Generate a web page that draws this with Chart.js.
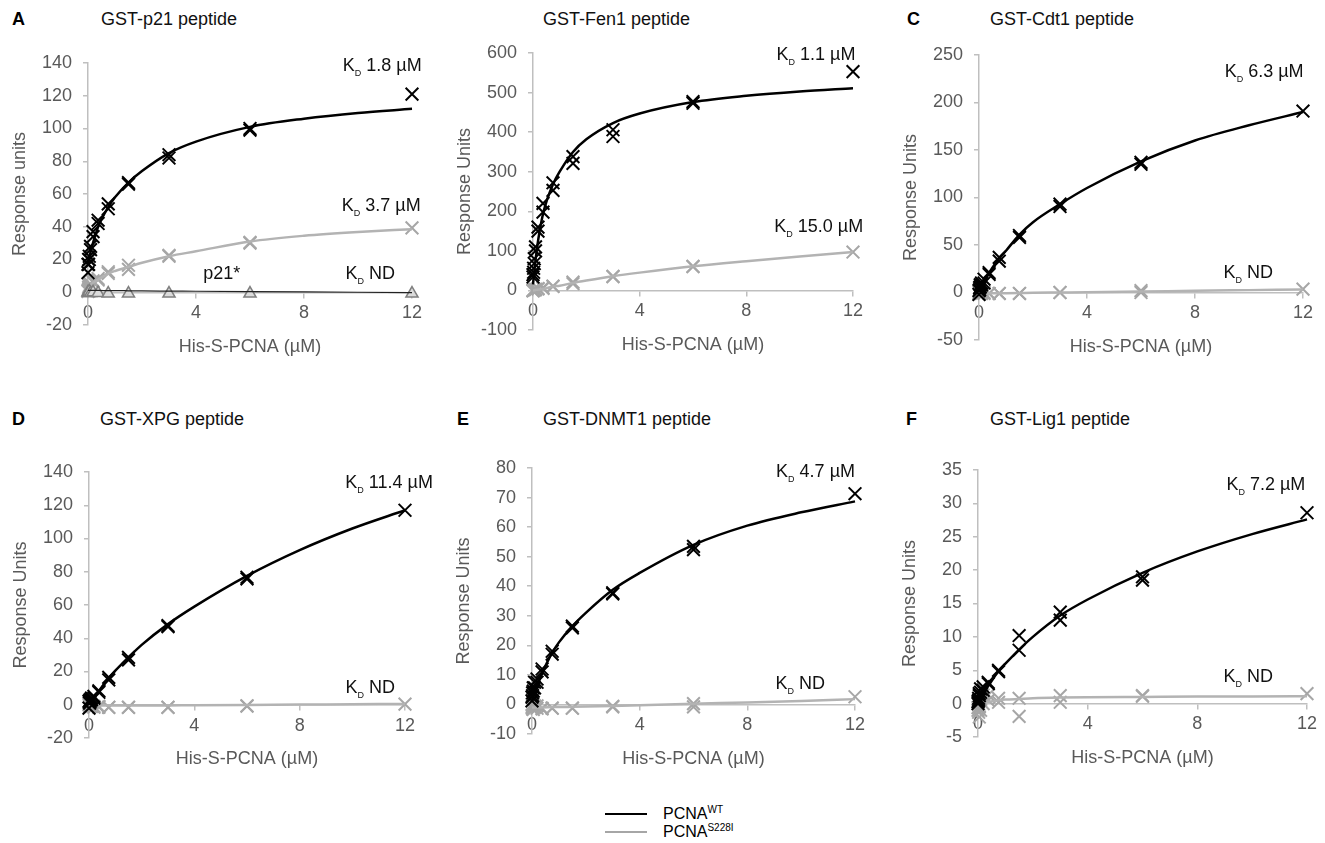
<!DOCTYPE html>
<html>
<head>
<meta charset="utf-8">
<title>PCNA binding curves</title>
<script src="https://cdn.jsdelivr.net/npm/chart.js@4.4.1/dist/chart.umd.min.js"></script>
<style>
  body { margin: 0; background: #fff; width: 1325px; height: 843px; overflow: hidden; position: relative;
         font-family: Arial, "Liberation Sans", Helvetica, sans-serif; }
  canvas { position: absolute; }
  .txt { position: absolute; font-size: 18px; line-height: 18px; color: #111; white-space: nowrap; }
  .letter { font-weight: bold; color: #000; }
  .leg { position: absolute; font-size: 16px; line-height: 16px; color: #000; white-space: nowrap; }
</style>
</head>
<body>
<script>
// SPR binding of His-S-PCNA to GST-peptides, PCNA WT vs S228I
// concentrations (µM) of the 2-fold dilution series, two replicates each
const conc = [0, 0.023, 0.047, 0.094, 0.1875, 0.375, 0.75, 1.5, 3, 6, 12];
const fitConc = [0, 0.1, 0.2, 0.4, 0.75, 1, 1.5, 2, 3, 4, 6, 8, 10, 12];

// A - p21
const p21Wt1 = [12, 17, 20, 26, 34, 42, 51, 67, 82, 99, 121];
const p21Wt2 = [17, 20, 22, 28, 37, 44, 54, 66, 84, 100, null];
const p21Mut1 = [1, 3, 4, 5, 7, 8.4, 12.5, 16.5, 22, 30, 39.3];
const p21Mut2 = [0.5, 2, 3, 4.5, 6, 7.5, 11.5, 14, 22.5, 30.5, null];
const p21Star = [0, -0.5, 0.5, -0.5, 0, -0.5, -0.8, -0.8, -0.8, -0.8, -0.8];
const p21WtFit = [17, 25, 31, 41, 52, 58, 67, 74, 85, 92, 101, 106, 109.5, 112];
const p21MutFit = [3, 4.5, 6, 8, 11.4, 13, 15.5, 18, 22, 25, 31, 34.5, 36.8, 38.5];
const p21StarFit = [1.2, 1.2, 1.1, 1.1, 1.0, 1.0, 0.9, 0.8, 0.7, 0.6, 0.4, 0.2, 0, -0.2];

// B - Fen1
const fenWt1 = [34, 56, 80, 110, 160, 220, 272, 338, 406, 477, 553];
const fenWt2 = [40, 46, 68, 100, 150, 198, 253, 321, 389, 473, null];
const fenMut1 = [0, 1, 2, 3, 5, 7, 11, 21, 35.5, 61, 97];
const fenMut2 = [-1, 0, 1, 2, 4, 5, 10, 17, 35, 60, null];
const fenWtFit = [15, 80, 130, 200, 268, 300, 350, 382, 423, 447, 476, 492, 503, 511];
const fenMutFit = [0, 1, 2, 4, 10, 12, 19, 25, 36, 45, 61, 74, 86, 97];

// C - Cdt1
const cdtWt1 = [2, 5, 8, 10, 14, 21, 37, 60, 90.5, 135, 191];
const cdtWt2 = [-2, 3, 6, 8, 10, 19, 33, 58, 93, 137, null];
const cdtMut1 = [0, 1, -1, 0, -1, -1, -1, -1, 0, 2, 3.5];
const cdtMut2 = [-2, 0, 0, -1, 0, -1, -1, -1, 0, 0, null];
const cdtWtFit = [1, 7, 13, 22, 36, 44, 61, 74, 93, 110, 138, 160, 176, 190];
const cdtMutFit = [-1, -1, -1, -0.9, -0.8, -0.7, -0.5, -0.3, 0, 0.3, 1, 1.8, 2.5, 3.2];

// D - XPG
const xpgWt1 = [2, 2.4, 3, 4, 5, 8.4, 16.5, 28.5, 47.6, 76.7, 117];
const xpgWt2 = [-2, 1, 2, 3, 4, 7.5, 15, 27, 47, 75.7, null];
const xpgMut1 = [0, -1, 0, -1, -1, -1.5, -1.6, -1.6, -1.6, -0.6, 0.4];
const xpgMut2 = [1, 0, -1, -0.5, -1.5, -1, -1.5, -1.5, -1.5, -0.8, null];
const xpgWtFit = [0, 2.3, 4.6, 8.8, 16, 20.5, 28.5, 36, 48.5, 59, 77.5, 93, 106, 117];
const xpgMutFit = [-0.5, -0.5, -0.5, -0.5, -0.5, -0.5, -0.5, -0.5, -0.4, -0.3, -0.1, 0.1, 0.3, 0.5];

// E - DNMT1
const dnmtWt1 = [2.5, 3.9, 5.6, 7.5, 8.6, 12, 18, 25.9, 37.8, 52.4, 71.3];
const dnmtWt2 = [1.2, 3, 4.5, 5.6, 7.5, 11, 17, 26.5, 37.4, 53.5, null];
const dnmtMut1 = [-1, -0.5, -1.7, -1, -1.3, -1.3, -1.3, -1.3, -0.8, 0.3, 2.6];
const dnmtMut2 = [0, -1.5, -1, -0.5, -0.5, -1.5, -1.2, -1.2, -0.6, -0.8, null];
const dnmtWtFit = [1, 4, 6.5, 11, 17.5, 21, 26.5, 31, 38.8, 44.5, 54, 60.5, 65, 68.7];
const dnmtMutFit = [-1, -1, -1, -1, -0.9, -0.9, -0.8, -0.7, -0.5, -0.3, 0.2, 0.7, 1.2, 1.8];

// F - Lig1
const ligWt1 = [0.3, 0.5, 1.2, 1.7, 2.5, 3.2, 5, 10.2, 13.7, 19, 28.6];
const ligWt2 = [0, 0.8, 1.5, 2.2, 2, 3, 4.8, 8, 12.5, 18.5, null];
const ligMut1 = [-0.6, -1.3, -2, 0.5, 1.3, 1.3, 0.8, 0.8, 1.2, 1.2, 1.5];
const ligMut2 = [-1, 0, -0.5, -1, 0, 0.5, 0.2, -1.9, 0.2, 1.1, null];
const ligWtFit = [0.3, 0.9, 1.5, 2.8, 4.9, 6, 8.1, 10, 13.2, 15.6, 19.6, 22.8, 25.4, 27.6];
const ligMutFit = [-0.3, -0.1, 0.1, 0.3, 0.5, 0.6, 0.7, 0.8, 0.9, 0.95, 1.0, 1.05, 1.08, 1.1];

const FONT = 'Arial, "Liberation Sans", Helvetica, sans-serif';
const BLACK = '#000000';
const GREY = '#a6a6a6';
const GREY_LINE = '#b3b3b3';
const AXIS = '#bfbfbf';
const TICK_TEXT = '#595959';

Chart.defaults.font.family = FONT;

// draws "K_D ..." annotations anchored in data coordinates (right aligned)
const kdLabelPlugin = {
  id: 'kdLabels',
  afterDraw(chart, args, opts) {
    const ctx = chart.ctx;
    const xs = chart.scales.x, ys = chart.scales.y;
    const big = '18px ' + FONT, small = '9px ' + FONT;
    ctx.save();
    ctx.fillStyle = '#111';
    ctx.textBaseline = 'alphabetic';
    (opts.items || []).forEach(function(it) {
      const px = xs.getPixelForValue(it.x);
      const py = ys.getPixelForValue(it.y) + 6.5;
      if (it.plain) {
        ctx.font = big;
        ctx.textAlign = 'center';
        ctx.fillText(it.plain, px, py);
        return;
      }
      ctx.textAlign = 'left';
      ctx.font = big;
      const wK = ctx.measureText('K').width;
      const rest = ' ' + it.text;
      const wRest = ctx.measureText(rest).width;
      ctx.font = small;
      const wD = ctx.measureText('D').width;
      const x0 = px - (wK + wD + wRest);
      ctx.font = big;
      ctx.fillText('K', x0, py);
      ctx.font = small;
      ctx.fillText('D', x0 + wK, py + 5);
      ctx.font = big;
      ctx.fillText(rest, x0 + wK + wD, py);
    });
    ctx.restore();
  }
};

function pts(xs, ys) {
  const out = [];
  xs.forEach(function(x, i) { if (ys[i] !== null) out.push({ x: x, y: ys[i] }); });
  return out;
}

function curve(vals, color, width) {
  return { data: pts(fitConc, vals), showLine: true, borderColor: color, borderWidth: width,
           pointRadius: 0, cubicInterpolationMode: 'monotone', fill: false, clip: false };
}

function crosses(vals, color) {
  return { data: pts(conc, vals), showLine: false, pointStyle: 'crossRot', pointRadius: 9,
           borderColor: color, pointBorderColor: color, borderWidth: 2, pointBorderWidth: 2,
           backgroundColor: 'transparent', clip: false };
}

// panel layout (pixel positions of axis corners on the page)
const panels = [
  { letter: 'A', title: 'GST-p21 peptide', yTitle: 'Response units', yMin: -20, yMax: 140, yStep: 20,
    axisX: 88, x12: 412, yTop: 63, yBot: 325, rowTop: 0, letterX: 12, titleX: 101,
    wt: [p21Wt1, p21Wt2], mut: [p21Mut1, p21Mut2], wtFit: p21WtFit, mutFit: p21MutFit,
    labels: [{ x: 12.36, y: 138.8, text: '1.8 µM' }, { x: 12.32, y: 53.8, text: '3.7 µM' },
             { x: 11.37, y: 11.8, text: 'ND' }, { x: 4.95, y: 11.8, plain: 'p21*' }] },
  { letter: '', title: 'GST-Fen1 peptide', yTitle: 'Response Units', yMin: -100, yMax: 600, yStep: 100,
    axisX: 533, x12: 853, yTop: 53, yBot: 330, rowTop: 0, letterX: 457, titleX: 543,
    wt: [fenWt1, fenWt2], mut: [fenMut1, fenMut2], wtFit: fenWtFit, mutFit: fenMutFit,
    labels: [{ x: 12.09, y: 600, text: '1.1 µM' }, { x: 12.38, y: 165, text: '15.0 µM' }] },
  { letter: 'C', title: 'GST-Cdt1 peptide', yTitle: 'Response Units', yMin: -50, yMax: 250, yStep: 50,
    axisX: 979, x12: 1303, yTop: 55, yBot: 340, rowTop: 0, letterX: 907, titleX: 990,
    wt: [cdtWt1, cdtWt2], mut: [cdtMut1, cdtMut2], wtFit: cdtWtFit, mutFit: cdtMutFit,
    labels: [{ x: 12.02, y: 233.4, text: '6.3 µM' }, { x: 10.89, y: 22.2, text: 'ND' }] },
  { letter: 'D', title: 'GST-XPG peptide', yTitle: 'Response Units', yMin: -20, yMax: 140, yStep: 20,
    axisX: 89, x12: 405, yTop: 472, yBot: 738, rowTop: 400, letterX: 12, titleX: 100,
    wt: [xpgWt1, xpgWt2], mut: [xpgMut1, xpgMut2], wtFit: xpgWtFit, mutFit: xpgMutFit,
    labels: [{ x: 13.06, y: 134, text: '11.4 µM' }, { x: 11.62, y: 10.8, text: 'ND' }] },
  { letter: 'E', title: 'GST-DNMT1 peptide', yTitle: 'Response Units', yMin: -10, yMax: 80, yStep: 10,
    axisX: 532, x12: 855, yTop: 468, yBot: 734, rowTop: 400, letterX: 457, titleX: 543,
    wt: [dnmtWt1, dnmtWt2], mut: [dnmtMut1, dnmtMut2], wtFit: dnmtWtFit, mutFit: dnmtMutFit,
    labels: [{ x: 12.0, y: 79.2, text: '4.7 µM' }, { x: 10.89, y: 7.5, text: 'ND' }] },
  { letter: 'F', title: 'GST-Lig1 peptide', yTitle: 'Response Units', yMin: -5, yMax: 35, yStep: 5,
    axisX: 978, x12: 1307, yTop: 470, yBot: 737, rowTop: 400, letterX: 906, titleX: 990,
    wt: [ligWt1, ligWt2], mut: [ligMut1, ligMut2], wtFit: ligWtFit, mutFit: ligMutFit,
    labels: [{ x: 11.94, y: 33, text: '7.2 µM' }, { x: 10.76, y: 4.25, text: 'ND' }] }
];

function addText(cls, text, left, top) {
  const d = document.createElement('div');
  d.className = cls;
  d.textContent = text;
  d.style.left = left + 'px';
  d.style.top = top + 'px';
  document.body.appendChild(d);
  return d;
}

panels.forEach(function(p, idx) {
  if (p.letter) addText('txt letter', p.letter, p.letterX, p.rowTop + 10);
  addText('txt', p.title, p.titleX, p.rowTop + 10);

  const left = p.axisX - 88;
  const width = Math.min(440, 1325 - left);
  const height = 400;
  const canvas = document.createElement('canvas');
  canvas.width = width;
  canvas.height = height;
  canvas.style.left = left + 'px';
  canvas.style.top = p.rowTop + 'px';
  canvas.style.width = width + 'px';
  canvas.style.height = height + 'px';
  document.body.appendChild(canvas);

  // first dataset is drawn on top
  const datasets = [
    curve(p.wtFit, BLACK, 2.5),
    crosses(p.wt[0], BLACK),
    crosses(p.wt[1], BLACK)
  ];
  if (idx === 0) {
    datasets.push(curve(p21StarFit, '#222', 1.2));
    datasets.push({ data: pts(conc, p21Star), showLine: false, pointStyle: 'triangle', pointRadius: 7,
                    backgroundColor: '#dcdcdc', borderColor: '#7f7f7f', pointBorderColor: '#7f7f7f',
                    borderWidth: 1.5, pointBorderWidth: 1.5, clip: false });
  }
  datasets.push(curve(p.mutFit, GREY_LINE, 2.5));
  datasets.push(crosses(p.mut[0], GREY));
  datasets.push(crosses(p.mut[1], GREY));

  new Chart(canvas, {
    type: 'scatter',
    data: { datasets: datasets },
    options: {
      responsive: false,
      animation: false,
      events: [],
      layout: { padding: { left: 0, top: p.yTop - p.rowTop, bottom: p.rowTop + height - p.yBot,
                           right: left + width - p.x12 } },
      plugins: {
        legend: { display: false },
        tooltip: { enabled: false },
        kdLabels: { items: p.labels }
      },
      scales: {
        x: {
          type: 'linear', min: 0, max: 12, position: { y: 0 },
          ticks: { stepSize: 4, color: TICK_TEXT, font: { size: 18 }, padding: 5, maxRotation: 0 },
          grid: { drawOnChartArea: false, drawTicks: true, tickLength: 5, color: AXIS, lineWidth: 1.5 },
          border: { color: AXIS, width: 1.5 },
          title: { display: true, text: 'His-S-PCNA (µM)', color: TICK_TEXT, font: { size: 18 },
                   padding: { top: 7, bottom: 0 } }
        },
        y: {
          type: 'linear', min: p.yMin, max: p.yMax,
          ticks: { stepSize: p.yStep, color: TICK_TEXT, font: { size: 18 }, padding: 11 },
          grid: { drawOnChartArea: false, drawTicks: true, tickLength: 5, color: AXIS, lineWidth: 1.5 },
          border: { color: AXIS, width: 1.5 },
          title: { display: true, text: p.yTitle, color: TICK_TEXT, font: { size: 18 },
                   padding: { top: 9, bottom: 0 } },
          afterFit: function(scale) { scale.width = 88; }
        }
      }
    },
    plugins: [kdLabelPlugin]
  });
});

// shared legend at the bottom
function legendRow(color, top, main, sup) {
  const line = document.createElement('div');
  line.style.position = 'absolute';
  line.style.left = '605px';
  line.style.top = top + 'px';
  line.style.width = '42px';
  line.style.height = '2px';
  line.style.background = color;
  document.body.appendChild(line);

  const t = addText('leg', main, 663, top - 7);
  const s = document.createElement('span');
  s.textContent = sup;
  s.style.fontSize = '10px';
  s.style.position = 'relative';
  s.style.top = '-6px';
  t.appendChild(s);
}
legendRow(BLACK, 813, 'PCNA', 'WT');
legendRow(GREY, 831, 'PCNA', 'S228I');
</script>
</body>
</html>
